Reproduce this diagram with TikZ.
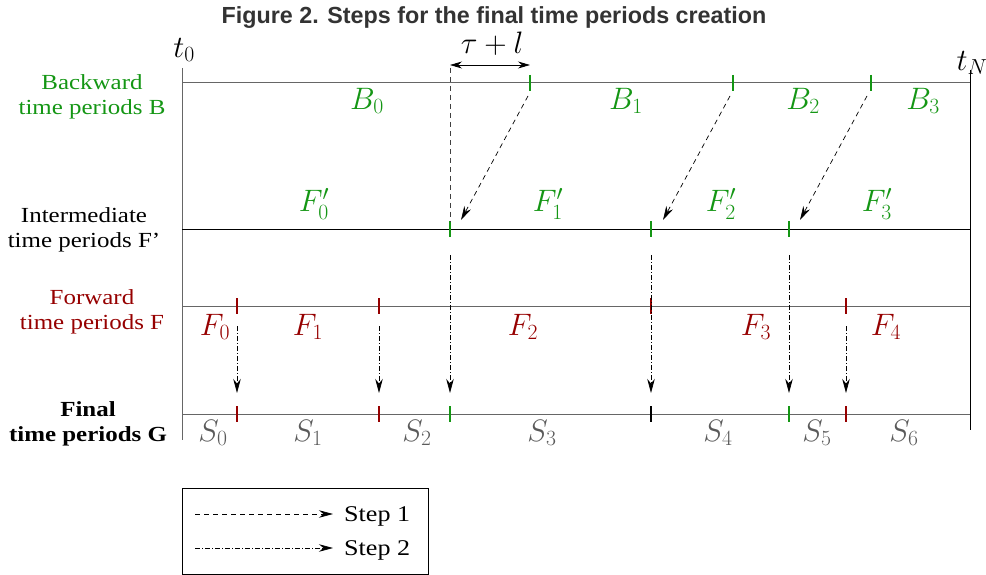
\documentclass[tikz,border=0pt]{standalone}
\usepackage{fix-cm}
\usepackage{fontspec}
\setmainfont{Liberation Serif}
\newfontfamily\titlefont{Liberation Sans}
\usepackage{graphicx}
\usetikzlibrary{arrows.meta}
\definecolor{gr}{RGB}{20,150,20}
\definecolor{dr}{RGB}{150,0,0}
\definecolor{sg}{RGB}{90,90,90}
\newcommand{\hs}[1]{\scalebox{1.16}[1]{#1}}
\tikzset{
  axis/.style={line width=1pt, draw=black!60},
  tk/.style={line width=2pt},
  stepone/.style={line width=0.7pt, dash pattern=on 5pt off 4pt, -{Stealth[length=14pt,width=7.5pt]}},
  steptwo/.style={line width=0.7pt, dash pattern=on 5pt off 2pt on 1pt off 2pt, -{Stealth[length=14pt,width=7.5pt]}},
  lab/.style={font=\fontsize{21.5}{25}\selectfont, align=center, inner sep=0pt},
  mth/.style={font=\fontsize{31}{34}\selectfont, inner sep=0pt},
}
\begin{document}
\begin{tikzpicture}[x=1pt,y=-1pt]
\useasboundingbox (0,0) rectangle (986,575);
\node[font=\titlefont\bfseries\fontsize{23.3}{26}\selectfont, text=black!80] (title) at (494,18) {Figure 2. Steps for the final time periods creation};
% axes
\coordinate (L0) at (182,68); \coordinate (L1) at (182,440);
\coordinate (R0) at (970,70); \coordinate (R1) at (970,430);
\draw[axis] (L0) -- (L1);
\draw[line width=1pt] (R0) -- (R1);
\coordinate (Ba) at (182,83); \coordinate (Bb) at (970,83);
\coordinate (Fpa) at (182,229); \coordinate (Fpb) at (970,229);
\coordinate (Fa) at (182,306); \coordinate (Fb) at (970,306);
\coordinate (Ga) at (182,414); \coordinate (Gb) at (970,414);
\draw[axis] (Ba) -- (Bb);
\draw[line width=1pt] (Fpa) -- (Fpb);
\draw[axis] (Fa) -- (Fb);
\draw[axis] (Ga) -- (Gb);
\node[mth] (t0) at (184,50) {$t_0$};
\node[mth] (tN) at (972,63) {$t_N$};
% ticks B
\foreach \x/\n in {530/b1,733/b2,871/b3}{\draw[tk,gr] (\x,75) -- (\x,91); \coordinate (\n) at (\x,83);}
% ticks F'
\foreach \x/\n in {450/p1,651/p2,789/p3}{\draw[tk,gr] (\x,221) -- (\x,237); \coordinate (\n) at (\x,229);}
% ticks F
\foreach \x/\n in {237/f1,379/f2,651/f3,846/f4}{\draw[tk,dr] (\x,298) -- (\x,314); \coordinate (\n) at (\x,306);}
% ticks G
\foreach \x/\c/\n in {237/dr/g1,379/dr/g2,450/gr/g3,651/black/g4,789/gr/g5,846/dr/g6}{\draw[tk,\c] (\x,406) -- (\x,422); \coordinate (\n) at (\x,414);}
% tau + l
\coordinate (ta) at (450,65); \coordinate (tb) at (530,65);
\draw[{Stealth[length=12pt,width=7pt]}-{Stealth[length=12pt,width=7pt]}, line width=0.8pt] (ta) -- (tb);
\node[mth] (tau) at (492,44) {$\tau+l$};
\coordinate (va) at (450,68); \coordinate (vb) at (450,222);
\draw[line width=0.7pt, draw=black!75, dash pattern=on 5pt off 4pt] (va) -- (vb);
% step 1 arrows
\coordinate (s1a) at (528,96); \coordinate (s1b) at (461,220);
\coordinate (s2a) at (730,96); \coordinate (s2b) at (663,220);
\coordinate (s3a) at (867,96); \coordinate (s3b) at (800,220);
\draw[stepone] (s1a) -- (s1b);
\draw[stepone] (s2a) -- (s2b);
\draw[stepone] (s3a) -- (s3b);
% step 2 arrows
\foreach \x in {450,651,789}{\draw[steptwo] (\x,255) -- (\x,393);}
\foreach \x in {237,379,846}{\draw[steptwo] (\x,326) -- (\x,393);}
% labels
\node[mth,gr] (B0) at (367,101) {$B_0$};
\node[mth,gr] (B1) at (626,101) {$B_1$};
\node[mth,gr] (B2) at (803,101) {$B_2$};
\node[mth,gr] (B3) at (923,101) {$B_3$};
\node[mth,gr] (Fp0) at (314,204) {$F'_0$};
\node[mth,gr] (Fp1) at (548,204) {$F'_1$};
\node[mth,gr] (Fp2) at (721,204) {$F'_2$};
\node[mth,gr] (Fp3) at (877,204) {$F'_3$};
\node[mth,dr] (F0) at (215,327) {$F_0$};
\node[mth,dr] (F1) at (308,327) {$F_1$};
\node[mth,dr] (F2) at (523,327) {$F_2$};
\node[mth,dr] (F3) at (756,327) {$F_3$};
\node[mth,dr] (F4) at (886,327) {$F_4$};
\node[mth,sg] (S0) at (213,433) {$S_0$};
\node[mth,sg] (S1) at (308,433) {$S_1$};
\node[mth,sg] (S2) at (417,433) {$S_2$};
\node[mth,sg] (S3) at (542,433) {$S_3$};
\node[mth,sg] (S4) at (718,433) {$S_4$};
\node[mth,sg] (S5) at (817,433) {$S_5$};
\node[mth,sg] (S6) at (904,433) {$S_6$};
% row labels
\node[lab,gr] (lb) at (92,97) {\hs{\begin{tabular}{@{}c@{}}Backward\\time periods B\end{tabular}}};
\node[lab] (lfp) at (84,230) {\hs{\begin{tabular}{@{}c@{}}Intermediate\\time periods F’\end{tabular}}};
\node[lab,dr] (lf) at (92,312) {\hs{\begin{tabular}{@{}c@{}}Forward\\time periods F\end{tabular}}};
\node[lab,font=\bfseries\fontsize{21.5}{25}\selectfont] (lg) at (88,424) {\hs{\begin{tabular}{@{}c@{}}Final\\time periods G\end{tabular}}};
% legend
\node[draw, line width=0.8pt, minimum width=246pt, minimum height=86pt, inner sep=0pt] (leg) at (305,531) {};
\coordinate (la1) at (195,514); \coordinate (lb1) at (333,514);
\coordinate (la2) at (195,548); \coordinate (lb2) at (333,548);
\draw[stepone] (la1) -- (lb1);
\draw[steptwo] (la2) -- (lb2);
\node[lab, anchor=west, font=\fontsize{22.5}{25}\selectfont] (st1) at (344,516) {\hs{Step 1}};
\node[lab, anchor=west, font=\fontsize{22.5}{25}\selectfont] (st2) at (344,550) {\hs{Step 2}};
\end{tikzpicture}
\end{document}
